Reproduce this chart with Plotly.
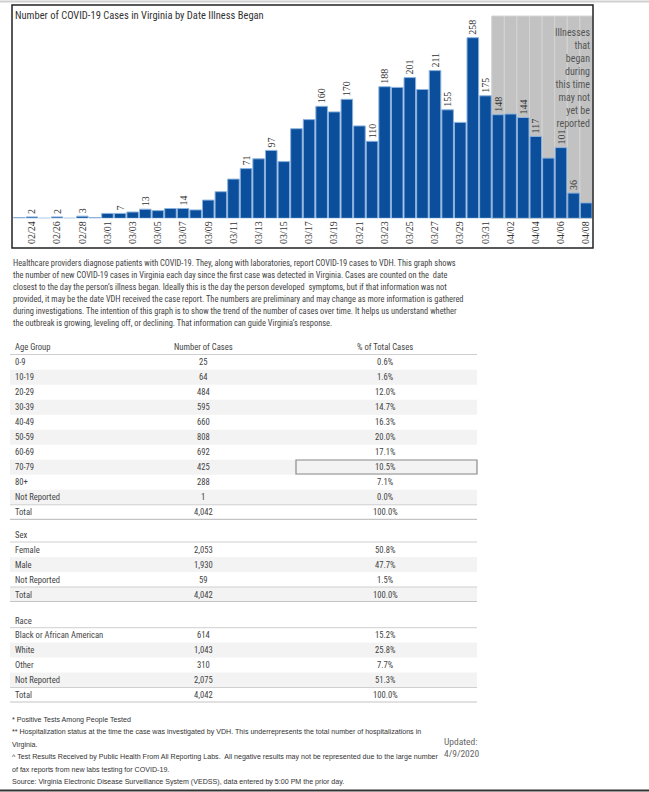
import plotly.graph_objects as go

W, H = 649, 792

# ---------------- data ----------------
dates = ["02/23", "02/24", "02/25", "02/26", "02/27", "02/28", "02/29",
         "03/01", "03/02", "03/03", "03/04", "03/05", "03/06", "03/07", "03/08",
         "03/09", "03/10", "03/11", "03/12", "03/13", "03/14", "03/15", "03/16",
         "03/17", "03/18", "03/19", "03/20", "03/21", "03/22", "03/23", "03/24",
         "03/25", "03/26", "03/27", "03/28", "03/29", "03/30", "03/31",
         "04/01", "04/02", "04/03", "04/04", "04/05", "04/06", "04/07", "04/08"]
cases = [1, 2, 0, 2, 0, 3, 1,
         7, 7, 9, 13, 11, 14, 14, 12,
         26, 38, 56, 71, 85, 97, 81, 128,
         141, 160, 152, 170, 132, 110, 188, 187,
         201, 184, 211, 155, 137, 258, 175,
         148, 149, 144, 117, 86, 101, 36, 22]
# which bars carry a visible value label
labeled_dates = ["02/24", "02/26", "02/28", "03/02", "03/04", "03/07", "03/12", "03/14",
                 "03/18", "03/20", "03/22", "03/23", "03/25", "03/27", "03/28", "03/30",
                 "03/31", "04/01", "04/03", "04/04", "04/06", "04/07"]
tick_dates = dates[1::2]
lag_dates = ["04/01", "04/02", "04/03", "04/04", "04/05", "04/06", "04/07", "04/08"]
y_max = 289

age_groups = ["0-9", "10-19", "20-29", "30-39", "40-49", "50-59", "60-69", "70-79", "80+", "Not Reported", "Total"]
age_cases = [25, 64, 484, 595, 660, 808, 692, 425, 288, 1, 4042]
age_pct = ["0.6%", "1.6%", "12.0%", "14.7%", "16.3%", "20.0%", "17.1%", "10.5%", "7.1%", "0.0%", "100.0%"]

sex_groups = ["Female", "Male", "Not Reported", "Total"]
sex_cases = [2053, 1930, 59, 4042]
sex_pct = ["50.8%", "47.7%", "1.5%", "100.0%"]

race_groups = ["Black or African American", "White", "Other", "Not Reported", "Total"]
race_cases = [614, 1043, 310, 2075, 4042]
race_pct = ["15.2%", "25.8%", "7.7%", "51.3%", "100.0%"]

title = "Number of COVID-19 Cases in Virginia by Date Illness Began"
lag_note = "Illnesses<br>that<br>began<br>during<br>this time<br>may not<br>yet be<br>reported"
paragraph = [
    "Healthcare providers diagnose patients with COVID-19. They, along with laboratories, report COVID-19 cases to VDH. This graph shows",
    "the number of new COVID-19 cases in Virginia each day since the first case was detected in Virginia. Cases are counted on the  date",
    "closest to the day the person\u2019s illness began. Ideally this is the day the person developed  symptoms, but if that information was not",
    "provided, it may be the date VDH received the case report. The numbers are preliminary and may change as more information is gathered",
    "during investigations. The intention of this graph is to show the trend of the number of cases over time. It helps us understand whether",
    "the outbreak is growing, leveling off, or declining. That information can guide Virginia\u2019s response.",
]
footnotes = [
    "* Positive Tests Among People Tested",
    "** Hospitalization status at the time the case was investigated by VDH. This underrepresents the total number of hospitalizations in",
    "Virginia.",
    "^ Test Results Received by Public Health From All Reporting Labs.  All negative results may not be represented due to the large number",
    "of fax reports from new labs testing for COVID-19.",
    "Source: Virginia Electronic Disease Surveillance System (VEDSS), data entered by 5:00 PM the prior day.",
]
updated = ["Updated:", "4/9/2020"]

# ---------------- styles ----------------
FONT = "Liberation Sans Narrow, Roboto Condensed, DejaVu Sans Condensed, Liberation Sans, sans-serif"
FOOT_FONT = "Liberation Sans, Arial, sans-serif"
SERIF = "Liberation Serif, DejaVu Serif, serif"
BAR = "#0b4f9c"
BAR_EDGE = "#8cb3dd"
TXT = "#444444"


def px(x):
    return x / W


def py(y):
    return 1 - y / H


labels = [str(v) if d in labeled_dates else "" for d, v in zip(dates, cases)]

fig = go.Figure()
fig.add_trace(go.Bar(
    x=dates, y=cases, text=labels, textposition="outside", textangle=-90,
    constraintext="none", cliponaxis=False,
    textfont=dict(family=SERIF, size=10, color="#333333"),
    marker=dict(color=BAR, line=dict(color=BAR_EDGE, width=1)),
    hoverinfo="skip",
))

shapes = []
annotations = []

# reporting-lag band
for d in lag_dates:
    i = dates.index(d)
    shapes.append(dict(type="rect", xref="x", yref="y domain", x0=i - 0.5, x1=i + 0.5, y0=0, y1=1,
                       fillcolor="#c2c2c2", line=dict(color="#d4d4d4", width=1), layer="below"))
annotations.append(dict(xref="paper", yref="paper", x=px(592), y=py(25), xanchor="right", yanchor="top",
                        text=lag_note, showarrow=False, align="right",
                        font=dict(family=FONT, size=10, color="#555555")))

# chart frame and page lines
shapes.append(dict(type="rect", xref="paper", yref="paper", x0=px(12), x1=px(593), y0=py(248), y1=py(5),
                   line=dict(color="#222222", width=1.5)))
shapes.append(dict(type="line", xref="paper", yref="paper", x0=0, x1=1, y0=py(1.5), y1=py(1.5),
                   line=dict(color="#d0d0d0", width=2)))
shapes.append(dict(type="line", xref="paper", yref="paper", x0=0, x1=1, y0=py(790.5), y1=py(790.5),
                   line=dict(color="#333333", width=2)))

annotations.append(dict(xref="paper", yref="paper", x=px(13), y=py(15.5), xanchor="left", yanchor="middle",
                        text=title, showarrow=False, font=dict(family=FONT, size=10.5, color="#333333")))

# paragraph
for k, line in enumerate(paragraph):
    annotations.append(dict(xref="paper", yref="paper", x=px(11), y=py(262.7 + 12.06 * k),
                            xanchor="left", yanchor="middle", text=line, showarrow=False,
                            font=dict(family=FONT, size=8.4, color=TXT)))

# tables
TX0, TX1 = 10, 477
COL_LABEL, COL_NUM, COL_PCT = 13, 203, 385
TSIZE = 8.6


def hline(y, color="#cfcfcf", width=1):
    shapes.append(dict(type="line", xref="paper", yref="paper", x0=px(TX0), x1=px(TX1),
                       y0=py(y), y1=py(y), line=dict(color=color, width=width)))


def band(yc):
    shapes.append(dict(type="rect", xref="paper", yref="paper", x0=px(TX0), x1=px(TX1),
                       y0=py(yc + 7.5), y1=py(yc - 7.5), fillcolor="#f3f3f3", line=dict(width=0),
                       layer="below"))


def cell(x, y, text, anchor):
    annotations.append(dict(xref="paper", yref="paper", x=px(x), y=py(y), xanchor=anchor, yanchor="middle",
                            text=text, showarrow=False, font=dict(family=FONT, size=TSIZE, color=TXT)))


def table(header, y_header, y_line, y_first, groups, nums, pcts, gray_rows, col_headers=False):
    cell(COL_LABEL, y_header, header, "left")
    if col_headers:
        cell(COL_NUM, y_header, "Number of Cases", "center")
        cell(COL_PCT, y_header, "% of Total Cases", "center")
    hline(y_line)
    for r, (g, n, p) in enumerate(zip(groups, nums, pcts)):
        yc = y_first + 15 * r
        if r in gray_rows:
            band(yc)
        cell(COL_LABEL, yc, g, "left")
        cell(COL_NUM, yc, f"{n:,}", "center")
        cell(COL_PCT, yc, p, "center")
    y_tot = y_first + 15 * (len(groups) - 1)
    hline(y_tot - 7.5)
    hline(y_tot + 7, color="#c4c4c4", width=1.2)


table("Age Group", 347, 354.5, 362.3, age_groups, age_cases, age_pct, {1, 3, 5, 7, 9}, col_headers=True)
# selected cell highlight
shapes.append(dict(type="rect", xref="paper", yref="paper", x0=px(296), x1=px(477),
                   y0=py(474), y1=py(460), line=dict(color="#8a8a8a", width=1.2)))
table("Sex", 535, 542, 549.5, sex_groups, sex_cases, sex_pct, {1, 3})
table("Race", 620.7, 627.7, 635, race_groups, race_cases, race_pct, {1, 3})

# footnotes
for k, line in enumerate(footnotes):
    annotations.append(dict(xref="paper", yref="paper", x=px(10), y=py(720 + 12.4 * k),
                            xanchor="left", yanchor="middle", text=line, showarrow=False,
                            font=dict(family=FOOT_FONT, size=7.1, color="#333333")))
for k, line in enumerate(updated):
    annotations.append(dict(xref="paper", yref="paper", x=px(442), y=py(741 + 12.4 * k),
                            xanchor="left", yanchor="middle", text=line, showarrow=False,
                            font=dict(family=FONT, size=9.5, color="#666666")))

fig.update_layout(
    width=W, height=H, margin=dict(l=0, r=0, t=0, b=0),
    paper_bgcolor="white", plot_bgcolor="rgba(0,0,0,0)",
    showlegend=False, bargap=0.08, hovermode=False,
    xaxis=dict(type="category", categoryorder="array", categoryarray=dates,
               domain=[px(13), px(592.5)], range=[-0.5, len(dates) - 0.5],
               tickmode="array", tickvals=tick_dates, ticktext=tick_dates, tickangle=-90,
               tickfont=dict(family=SERIF, size=10, color="#333333"),
               showgrid=False, zeroline=False, showline=False, ticks="", fixedrange=True),
    yaxis=dict(domain=[py(218.3), py(16)], range=[0, y_max], visible=False, fixedrange=True),
    shapes=shapes, annotations=annotations,
)

fig.write_html("out.html", config={"displayModeBar": False},
               post_script="document.body.style.margin='0';document.body.style.overflow='hidden';")
